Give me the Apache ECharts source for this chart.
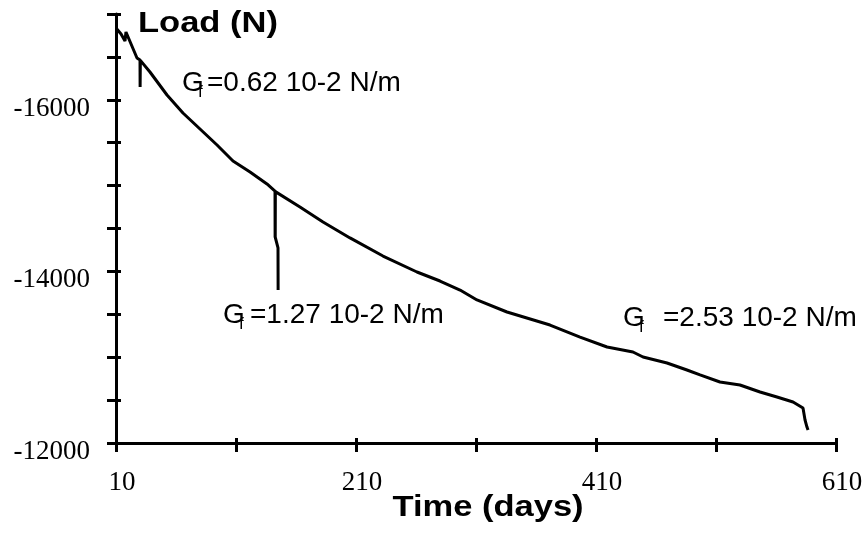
<!DOCTYPE html>
<html>
<head>
<meta charset="utf-8">
<script src="https://cdn.jsdelivr.net/npm/echarts@6/dist/echarts.min.js"></script>
<style>
  html, body { margin: 0; padding: 0; background: #fff; }
  #chart { width: 867px; height: 533px; }
</style>
</head>
<body>
<div id="chart"></div>
<script>
// time in days, load in N
const days = [10, 14.2, 17.5, 18.3, 27.5, 30, 30.1, 30.3, 30.8, 38.3, 52.5, 65.8, 80, 94.2, 107.5, 121.7, 135.8,
  142.5, 142.6, 145, 145.1, 145, 142.7, 142.8, 163.3, 182.5, 205, 232.5, 260.8, 280, 296.7, 310.8, 335.8, 371.7,
  396.7, 419.2, 440.8, 449.2, 469.2, 485.8, 496.7, 513.3, 530, 546.7, 560.8, 574.2, 582.5,
  584.2, 585.8, 586.7]
const loads = [-16837, -16767, -16685, -16790, -16487, -16464, -16149, -16460, -16452, -16324, -16056, -15846, -15660, -15473, -15287, -15159, -15019,
  -14937, -14401, -14273, -13783, -14273, -14401, -14930, -14751, -14576, -14390, -14179, -13993, -13888, -13783, -13667, -13527, -13375,
  -13235, -13119, -13061, -13002, -12932, -12851, -12793, -12711, -12676, -12594, -12536, -12478, -12408,
  -12268, -12186, -12151]

const xTicks = [10, 110, 210, 310, 410, 510, 610]
const xLabels = [10, 210, 410, 610]
const yTicks = [-17000, -16500, -16000, -15500, -15000, -14500, -14000, -13500, -13000, -12500, -12000]
const yLabels = [-16000, -14000, -12000]

const chart = echarts.init(document.getElementById('chart'))

const sans = 'Liberation Sans'
const serif = 'Liberation Serif'

// G with subscript f, then the rest of the note
const gfNote = (x, yMid, rest, restX) => [
  { type: 'text', style: { x: x, y: yMid, text: 'G', font: '28px ' + sans, fill: '#000', textVerticalAlign: 'middle' } },
  { type: 'text', style: { x: x + 16, y: yMid + 9, text: 'f', font: '17px ' + sans, fill: '#000', textVerticalAlign: 'middle' } },
  { type: 'text', style: { x: restX, y: yMid, text: rest, font: '28px ' + sans, fill: '#000', textVerticalAlign: 'middle' } }
]

chart.setOption({
  animation: false,
  backgroundColor: '#fff',
  grid: { left: 116, right: 31, top: 14, bottom: 90 },
  xAxis: [
    {
      type: 'value', min: 10, max: 610,
      axisLine: { lineStyle: { color: '#000', width: 3 } },
      axisTick: { customValues: xTicks, length: 9, lineStyle: { color: '#000', width: 3 } },
      axisLabel: {
        customValues: xLabels, margin: 26, color: '#000',
        fontFamily: serif, fontSize: 27, padding: [0, 0, 0, 12],
        formatter: v => String(v)
      },
      splitLine: { show: false }
    },
    {
      type: 'value', min: 10, max: 610, position: 'bottom',
      axisLine: { show: false },
      axisTick: { customValues: xTicks, inside: true, length: 5, lineStyle: { color: '#000', width: 3 } },
      axisLabel: { show: false },
      splitLine: { show: false }
    }
  ],
  yAxis: [
    {
      type: 'value', min: -17000, max: -12000, inverse: true,
      axisLine: { show: true, lineStyle: { color: '#000', width: 3 } },
      axisTick: { show: true, customValues: yTicks, length: 9, lineStyle: { color: '#000', width: 3 } },
      axisLabel: {
        customValues: yLabels, margin: 26, color: '#000',
        fontFamily: serif, fontSize: 27, verticalAlign: 'top', lineHeight: 18,
        formatter: v => String(v)
      },
      splitLine: { show: false }
    },
    {
      type: 'value', min: -17000, max: -12000, inverse: true, position: 'left',
      axisLine: { show: false },
      axisTick: { show: true, customValues: yTicks, inside: true, length: 5, lineStyle: { color: '#000', width: 3 } },
      axisLabel: { show: false },
      splitLine: { show: false }
    }
  ],
  series: [
    {
      type: 'line',
      data: days.map((d, i) => [d, loads[i]]),
      showSymbol: false,
      lineStyle: { color: '#000', width: 3 }
    }
  ],
  graphic: [
    { type: 'text', x: 138, y: 24, scaleX: 1.19,
      style: { x: 0, y: 0, text: 'Load (N)', font: 'bold 29px ' + sans, fill: '#000', textVerticalAlign: 'middle' } },
    { type: 'text', x: 488, y: 508, scaleX: 1.19,
      style: { x: 0, y: 0, text: 'Time (days)', font: 'bold 29px ' + sans, fill: '#000', textAlign: 'center', textVerticalAlign: 'middle' } },
    ...gfNote(182, 83, '=0.62 10-2 N/m', 207),
    ...gfNote(223, 315, '=1.27 10-2 N/m', 250),
    ...gfNote(623, 318, '=2.53 10-2 N/m', 663)
  ]
})
</script>
</body>
</html>
